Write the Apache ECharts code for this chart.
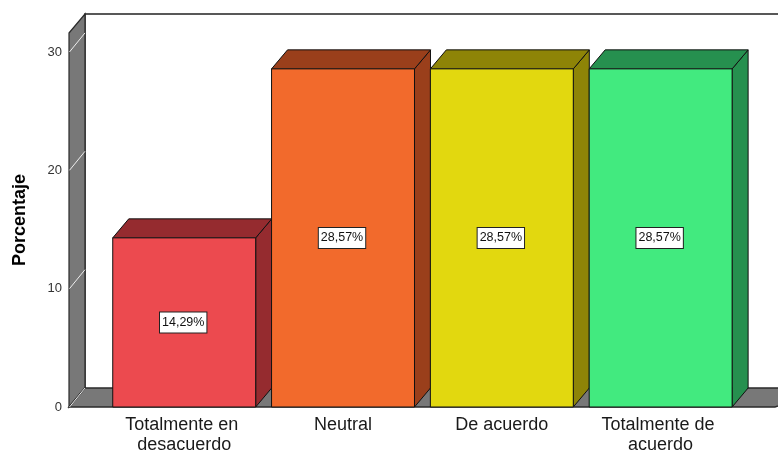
<!DOCTYPE html>
<html>
<head>
<meta charset="utf-8">
<script src="https://cdn.jsdelivr.net/npm/echarts@6/dist/echarts.min.js"></script>
<style>
html,body{margin:0;padding:0;background:#fff;}
#chart{width:778px;height:455px;}
</style>
</head>
<body>
<div id="chart"></div>
<script>
// ---- data ----
const categories = ['Totalmente en desacuerdo', 'Neutral', 'De acuerdo', 'Totalmente de acuerdo'];
const percentages = [14.29, 28.57, 28.57, 28.57];
const yTicks = [0, 10, 20, 30];
const yAxisName = 'Porcentaje';

// ---- styles ----
const frontColors = ['#EC4A4F', '#F26A2C', '#E2D80F', '#42EA7F'];
const sideColors  = ['#952B2F', '#9A3F1B', '#8E8407', '#26904F'];
const DX = 16, DY = -19;       // 3D depth offset in pixels
const BAR_HALF = 0.45;          // half bar width in category units
const X_MIN = -0.7254, X_MAX = 3.72, Y_MAX = 31.6;

const chart = echarts.init(document.getElementById('chart'));

function fmt(v) { return v.toFixed(2).replace('.', ',') + '%'; }

function renderFrame(params, api) {
  const cs = params.coordSys;
  const x = cs.x, y = cs.y, w = cs.width, h = cs.height;
  const children = [];
  // back wall
  children.push({ type: 'rect', shape: { x: x + DX, y: y + DY, width: w, height: h },
    style: { fill: '#ffffff', stroke: null } });
  children.push({ type: 'polyline', shape: { points: [[x + DX, y + h + DY], [x + DX, y + DY], [x + DX + w + 40, y + DY]] },
    style: { stroke: '#222', lineWidth: 1.5, fill: null } });
  // left wall
  children.push({ type: 'polygon', shape: { points: [[x, y], [x + DX, y + DY], [x + DX, y + h + DY], [x, y + h]] },
    style: { fill: '#787878', stroke: '#2a2a2a', lineWidth: 1.2 } });
  // floor
  children.push({ type: 'polygon', shape: { points: [[x, y + h], [x + DX, y + h + DY], [x + w + DX + 40, y + h + DY], [x + w, y + h]] },
    style: { fill: '#787878', stroke: '#2a2a2a', lineWidth: 1.5 } });
  // wall grid lines
  yTicks.forEach(function (t) {
    const p = api.coord([X_MIN, t]);
    children.push({ type: 'line', shape: { x1: p[0] + 0.5, y1: p[1], x2: p[0] + DX, y2: p[1] + DY },
      style: { stroke: '#eeeeee', lineWidth: 1 } });
  });
  return { type: 'group', children: children };
}

function renderBar(params, api) {
  const i = api.value(0), v = api.value(1);
  const p0 = api.coord([i - BAR_HALF, v]);
  const p1 = api.coord([i + BAR_HALF, 0]);
  const x0 = p0[0], x1 = p1[0], top = p0[1], bot = p1[1];
  const pm = api.coord([i, v / 2]);
  const idx = params.dataIndex;
  const st = { stroke: '#111', lineWidth: 1, lineJoin: 'round' };
  return {
    type: 'group',
    children: [
      { type: 'polygon', shape: { points: [[x1, top], [x1 + DX, top + DY], [x1 + DX, bot + DY], [x1, bot]] },
        style: Object.assign({ fill: sideColors[idx] }, st) },
      { type: 'polygon', shape: { points: [[x0, top], [x0 + DX, top + DY], [x1 + DX, top + DY], [x1, top]] },
        style: Object.assign({ fill: sideColors[idx] }, st) },
      { type: 'rect', shape: { x: x0, y: top, width: x1 - x0, height: bot - top },
        style: Object.assign({ fill: frontColors[idx] }, st) },
      { type: 'text', x: pm[0] - 1, y: pm[1],
        style: { text: fmt(v), fontFamily: 'Liberation Sans, Arial, sans-serif', fontSize: 12.5,
          fill: '#111', align: 'center', verticalAlign: 'middle',
          backgroundColor: '#ffffff', borderColor: '#222', borderWidth: 1, padding: [4, 2, 3, 2] } }
    ]
  };
}

chart.setOption({
  animation: false,
  backgroundColor: '#ffffff',
  grid: [
    { left: 69, right: 3, top: 33, bottom: 48 },
    { left: 104.8, right: 38.1, top: 33, bottom: 48 }
  ],
  xAxis: [
    { type: 'value', gridIndex: 0, min: X_MIN, max: X_MAX, show: false },
    { type: 'category', gridIndex: 1, data: categories,
      axisLine: { show: false }, axisTick: { show: false }, splitLine: { show: false },
      axisLabel: { interval: 0, margin: 10, fontFamily: 'Liberation Sans, Arial, sans-serif', fontSize: 18,
        lineHeight: 20, color: '#1a1a1a', width: 150, overflow: 'break' } }
  ],
  yAxis: [
    { type: 'value', gridIndex: 0, min: 0, max: Y_MAX, interval: 10,
      name: yAxisName, nameLocation: 'middle', nameGap: 40,
      nameTextStyle: { fontFamily: 'Liberation Sans, Arial, sans-serif', fontSize: 18, fontWeight: 'bold', color: '#000' },
      axisLine: { show: false }, axisTick: { show: false }, splitLine: { show: false },
      axisLabel: { margin: 7, fontFamily: 'Liberation Sans, Arial, sans-serif', fontSize: 13, color: '#333',
        padding: [3, 0, 0, 0],
        formatter: function (val) { return yTicks.indexOf(val) >= 0 ? String(val) : ''; } } },
    { type: 'value', gridIndex: 1, min: 0, max: Y_MAX, show: false }
  ],
  series: [
    { type: 'custom', xAxisIndex: 0, yAxisIndex: 0, clip: false, silent: true,
      data: [[0, 0]], renderItem: renderFrame, z: 1 },
    { type: 'custom', xAxisIndex: 0, yAxisIndex: 0, clip: false,
      data: percentages.map(function (v, i) { return [i, v]; }), renderItem: renderBar, z: 2 }
  ]
});
</script>
</body>
</html>
